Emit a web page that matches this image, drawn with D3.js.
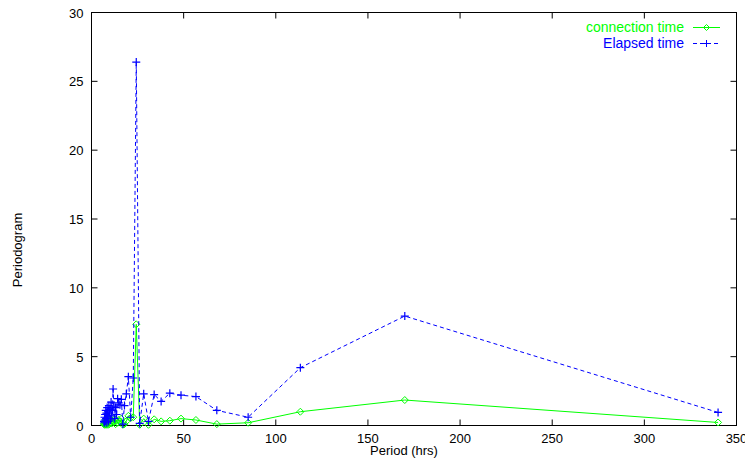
<!DOCTYPE html>
<html>
<head>
<meta charset="utf-8">
<script src="https://cdn.jsdelivr.net/npm/d3@7"></script>
<style>
  body { margin: 0; background: #fff; }
  text { font-family: 'Liberation Sans', Arial, sans-serif; }
</style>
</head>
<body>
<div id="chart"></div>
<script>
// Periods (hrs)
const periods = [340, 170, 113.33, 85, 68, 56.67, 48.57, 42.5, 37.78, 34,
  30.91, 28.33, 26.15, 24.29, 22.67, 21.25, 20, 18.89, 17.89, 17,
  16.19, 15.45, 14.78, 14.17, 13.6, 13.08, 12.59, 12.14, 11.72, 11.33,
  10.97, 10.63, 10.3, 10, 9.71, 9.44, 9.19, 8.95, 8.72, 8.5,
  8.29, 8.1, 7.91, 7.73, 7.56, 7.39, 7.23, 7.08, 6.94, 6.8]

// connection time
const connection = [0.22, 1.85, 1.0, 0.2, 0.1, 0.4, 0.5, 0.35, 0.3, 0.45,
  0.05, 0.5, 0.05, 7.35, 0.6, 0.55, 0.7, 0.3, 0.1, 0.05,
  0.5, 0.3, 0.4, 0.2, 0.35, 0.1, 0.45, 0.25, 0.3, 0.6,
  0.15, 0.4, 0.2, 0.5, 0.1, 0.3, 0.4, 0.05, 0.25, 0.35,
  0.1, 0.3, 0.05, 0.2, 0.4, 0.1, 0.25, 0.05, 0.15, 0.1]

// Elapsed time
const elapsed = [0.95, 7.95, 4.2, 0.6, 1.1, 2.1, 2.2, 2.35, 1.75, 2.25,
  0.3, 2.3, 0.15, 26.4, 3.45, 0.6, 3.55, 2.3, 1.45, 0.1,
  1.9, 1.5, 1.65, 1.95, 0.8, 1.3, 0.5, 1.4, 2.65, 1.1,
  0.7, 1.7, 0.4, 1.2, 0.9, 1.45, 0.3, 1.0, 0.6, 1.3,
  0.2, 0.9, 0.5, 1.1, 0.3, 0.8, 0.4, 0.6, 0.2, 0.3]

const xTicks = [0, 50, 100, 150, 200, 250, 300, 350]
const yTicks = [0, 5, 10, 15, 20, 25, 30]

const width = 745,
  height = 459,
  plotLeft = 91.5,
  plotRight = 736.5,
  plotTop = 12.5,
  plotBottom = 425.5

let svg = d3.select('#chart')
  .append('svg')
  .attr('width', width)
  .attr('height', height)

const xScale = d3.scaleLinear().domain([0, 350]).range([plotLeft, plotRight])
const yScale = d3.scaleLinear().domain([0, 30]).range([plotBottom, plotTop])

// ticks, inward and mirrored
const tickLen = 6
svg.append('g').selectAll('line')
  .data(xTicks.slice(1, -1))
  .enter().append('line')
  .attr('x1', d => xScale(d)).attr('x2', d => xScale(d))
  .attr('y1', plotBottom).attr('y2', plotBottom - tickLen)
  .attr('stroke', '#000')
svg.append('g').selectAll('line')
  .data(xTicks.slice(1, -1))
  .enter().append('line')
  .attr('x1', d => xScale(d)).attr('x2', d => xScale(d))
  .attr('y1', plotTop).attr('y2', plotTop + tickLen)
  .attr('stroke', '#000')
svg.append('g').selectAll('line')
  .data(yTicks.slice(1, -1))
  .enter().append('line')
  .attr('x1', plotLeft).attr('x2', plotLeft + tickLen)
  .attr('y1', d => yScale(d)).attr('y2', d => yScale(d))
  .attr('stroke', '#000')
svg.append('g').selectAll('line')
  .data(yTicks.slice(1, -1))
  .enter().append('line')
  .attr('x1', plotRight).attr('x2', plotRight - tickLen)
  .attr('y1', d => yScale(d)).attr('y2', d => yScale(d))
  .attr('stroke', '#000')

// tick labels
svg.append('g').selectAll('text')
  .data(xTicks)
  .enter().append('text')
  .attr('x', d => xScale(d))
  .attr('y', plotBottom + 17)
  .attr('text-anchor', 'middle')
  .attr('font-size', 13)
  .text(d => d)
svg.append('g').selectAll('text')
  .data(yTicks)
  .enter().append('text')
  .attr('x', plotLeft - 8)
  .attr('y', d => yScale(d) + 5)
  .attr('text-anchor', 'end')
  .attr('font-size', 13)
  .text(d => d)

// frame
svg.append('rect')
  .attr('x', plotLeft).attr('y', plotTop)
  .attr('width', plotRight - plotLeft).attr('height', plotBottom - plotTop)
  .attr('fill', 'none')
  .attr('stroke', '#000')

// axis titles
svg.append('text')
  .attr('x', (plotLeft + plotRight) / 2 - 10)
  .attr('y', 455)
  .attr('text-anchor', 'middle')
  .attr('font-size', 13)
  .text('Period (hrs)')
svg.append('text')
  .attr('transform', 'translate(22, 250) rotate(-90)')
  .attr('text-anchor', 'middle')
  .attr('font-size', 13)
  .text('Periodogram')

const connData = periods.map((p, i) => [p, connection[i]])
const elapData = periods.map((p, i) => [p, elapsed[i]])

const line = d3.line()
  .x(d => xScale(d[0]))
  .y(d => yScale(d[1]))

// connection time
svg.append('path')
  .datum(connData)
  .attr('d', line)
  .attr('fill', 'none')
  .attr('stroke', '#00ff00')
  .attr('stroke-width', 1)
const diamond = (x, y, r) => `M${x},${y - r}L${x + r},${y}L${x},${y + r}L${x - r},${y}Z`
svg.append('g').selectAll('path')
  .data(connData)
  .enter().append('path')
  .attr('d', d => diamond(xScale(d[0]), yScale(d[1]), 3.5))
  .attr('fill', 'none')
  .attr('stroke', '#00ff00')

// Elapsed time
svg.append('path')
  .datum(elapData)
  .attr('d', line)
  .attr('fill', 'none')
  .attr('stroke', '#0000ff')
  .attr('stroke-width', 1)
  .attr('stroke-dasharray', '4,3')
const plus = (x, y, r) => `M${x - r},${y}H${x + r}M${x},${y - r}V${y + r}`
svg.append('g').selectAll('path')
  .data(elapData)
  .enter().append('path')
  .attr('d', d => plus(xScale(d[0]), yScale(d[1]), 4))
  .attr('stroke', '#0000ff')
  .attr('stroke-width', 1.2)

// legend
const legend = svg.append('g')
legend.append('text')
  .attr('x', 684).attr('y', 32)
  .attr('text-anchor', 'end')
  .attr('font-size', 14)
  .attr('fill', '#00ff00')
  .text('connection time')
legend.append('line')
  .attr('x1', 693).attr('x2', 720).attr('y1', 27.5).attr('y2', 27.5)
  .attr('stroke', '#00ff00')
legend.append('path')
  .attr('d', diamond(706.5, 27.5, 3))
  .attr('fill', 'none')
  .attr('stroke', '#00ff00')
legend.append('text')
  .attr('x', 684).attr('y', 48)
  .attr('text-anchor', 'end')
  .attr('font-size', 14)
  .attr('fill', '#0000ff')
  .text('Elapsed time')
legend.append('line')
  .attr('x1', 693).attr('x2', 720).attr('y1', 43.5).attr('y2', 43.5)
  .attr('stroke', '#0000ff')
  .attr('stroke-dasharray', '4,3')
legend.append('path')
  .attr('d', plus(706.5, 43.5, 3.5))
  .attr('stroke', '#0000ff')
</script>
</body>
</html>
